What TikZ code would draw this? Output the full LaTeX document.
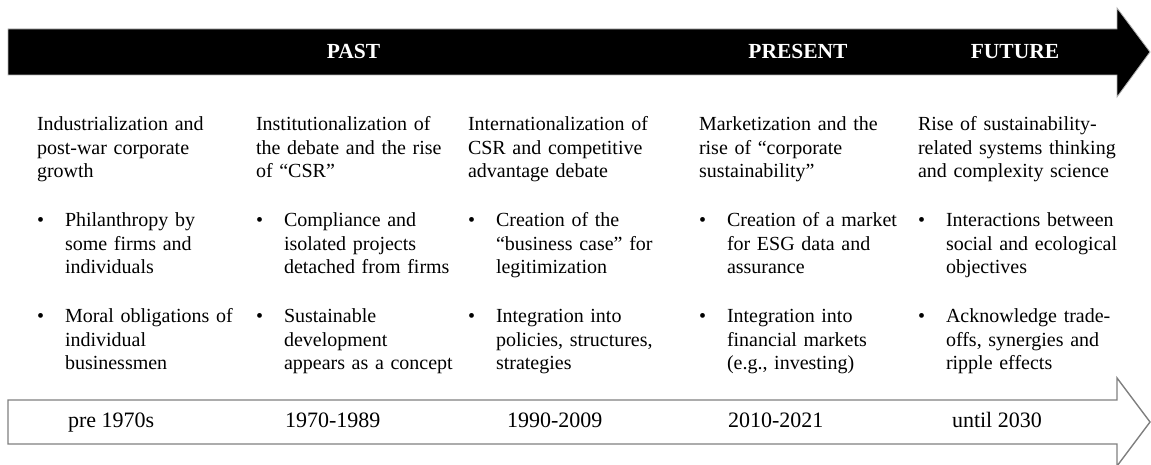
\documentclass[tikz,border=0pt]{standalone}
\usepackage{fontspec}
\setmainfont{Liberation Serif}
\definecolor{rimgray}{RGB}{128,128,128}
\begin{document}
\begin{tikzpicture}[x=1pt,y=1pt,
  every node/.style={inner sep=0pt, outer sep=0pt},
  era/.style={anchor=base, text=white, font=\bfseries\fontsize{21.5}{24}\selectfont},
  blocktext/.style={anchor=base west, text width=230pt, align=left,
    font=\fontsize{20}{23.5}\selectfont},
  dot/.style={anchor=base west, font=\fontsize{20}{23.5}\selectfont},
  year/.style={anchor=base west, font=\fontsize{22}{26}\selectfont}]
\useasboundingbox (0,0) rectangle (1151,465);

% black era arrow along the top
\filldraw[fill=black, draw=gray!60, line width=0.8pt, line join=miter]
  (8,436) -- (1117,436) -- (1117,457) -- (1150,413) -- (1117,368)
  -- (1117,390) -- (8,390) -- cycle;
\node[era] (past)    at (353.5,406) {PAST};
\node[era] (present) at (798,406)   {PRESENT};
\node[era] (future)  at (1015,406)  {FUTURE};

% outlined year arrow along the bottom
\filldraw[fill=white, draw=rimgray, line width=1.4pt, line join=miter]
  (8,65) -- (1117,65) -- (1117,87) -- (1150,43) -- (1117,-1)
  -- (1117,21) -- (8,21) -- cycle;
\node[year] (y1) at (68,37)  {pre 1970s};
\node[year] (y2) at (285,37) {1970-1989};
\node[year] (y3) at (507,37) {1990-2009};
\node[year] (y4) at (728,37) {2010-2021};
\node[year] (y5) at (952,37) {until 2030};

% column headings
\node[blocktext] (h1) at (37,334)  {Industrialization and\\post-war corporate\\growth};
\node[blocktext] (h2) at (256,334) {Institutionalization of\\the debate and the rise\\of “CSR”};
\node[blocktext] (h3) at (468,334) {Internationalization of\\CSR and competitive\\advantage debate};
\node[blocktext] (h4) at (699,334) {Marketization and the\\rise of “corporate\\sustainability”};
\node[blocktext] (h5) at (918,334) {Rise of sustainability-\\related systems thinking\\and complexity science};

% first bullet row
\node[dot] (d11) at (37,238)  {•};
\node[dot] (d21) at (256,238) {•};
\node[dot] (d31) at (468,238) {•};
\node[dot] (d41) at (699,238) {•};
\node[dot] (d51) at (918,238) {•};
\node[blocktext] (b11) at (65,238)  {Philanthropy by\\some firms and\\individuals};
\node[blocktext] (b21) at (284,238) {Compliance and\\isolated projects\\detached from firms};
\node[blocktext] (b31) at (496,238) {Creation of the\\“business case” for\\legitimization};
\node[blocktext] (b41) at (727,238) {Creation of a market\\for ESG data and\\assurance};
\node[blocktext] (b51) at (946,238) {Interactions between\\social and ecological\\objectives};

% second bullet row
\node[dot] (d12) at (37,142)  {•};
\node[dot] (d22) at (256,142) {•};
\node[dot] (d32) at (468,142) {•};
\node[dot] (d42) at (699,142) {•};
\node[dot] (d52) at (918,142) {•};
\node[blocktext] (b12) at (65,142)  {Moral obligations of\\individual\\businessmen};
\node[blocktext] (b22) at (284,142) {Sustainable\\development\\appears as a concept};
\node[blocktext] (b32) at (496,142) {Integration into\\policies, structures,\\strategies};
\node[blocktext] (b42) at (727,142) {Integration into\\financial markets\\(e.g., investing)};
\node[blocktext] (b52) at (946,142) {Acknowledge trade-\\offs, synergies and\\ripple effects};
\end{tikzpicture}
\end{document}
